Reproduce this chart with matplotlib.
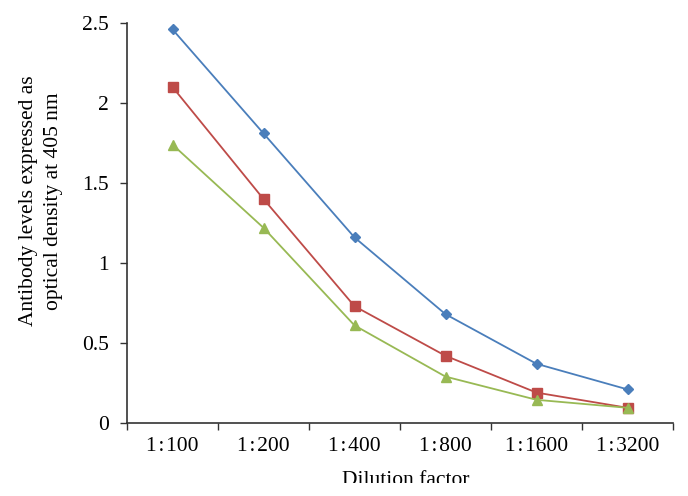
import matplotlib
matplotlib.use('Agg')
import matplotlib.pyplot as plt
from matplotlib.patches import Rectangle
from matplotlib.ticker import FixedLocator

# Data
dilutions = ['1\u200a:\u200a100', '1\u200a:\u200a200', '1\u200a:\u200a400',
             '1\u200a:\u200a800', '1\u200a:\u200a1600', '1\u200a:\u200a3200']
series_blue = [2.46, 1.81, 1.16, 0.68, 0.37, 0.21]
series_red = [2.10, 1.40, 0.73, 0.42, 0.19, 0.095]
series_green = [1.74, 1.22, 0.61, 0.29, 0.145, 0.095]
y_ticks = [0, 0.5, 1, 1.5, 2, 2.5]
y_tick_labels = ['0', '0.5', '1', '1.5', '2', '2.5']

plt.rcParams['font.family'] = ['Liberation Serif', 'DejaVu Serif']

fig = plt.figure(figsize=(6.88, 4.96), dpi=100)
ax = fig.add_axes([127/688, 1 - 423/496, 546/688, 400/496])

x = list(range(len(dilutions)))
ax.plot(x, series_blue, color='#4a7ebb', lw=1.3, marker='D', ms=5.5, zorder=3)
ax.plot(x, series_red, color='#be4b48', lw=1.3, marker='s', ms=7, zorder=3)
ax.plot(x, series_green, color='#98b954', lw=1.3, marker='^', ms=7, zorder=4)

ax.set_xlim(-0.5, len(dilutions) - 0.5)
ax.set_ylim(0, 2.5)
ax.set_xticks(x)
ax.set_xticklabels(dilutions, fontsize=15.5)
ax.xaxis.set_minor_locator(FixedLocator([i - 0.5 for i in range(len(dilutions) + 1)]))
ax.tick_params(axis='x', which='major', length=0, pad=10)
ax.tick_params(axis='x', which='minor', length=5, width=1, direction='out', color='#333333')
ax.set_yticks(y_ticks)
ax.set_yticklabels(y_tick_labels, fontsize=15.5)
ax.tick_params(axis='y', length=5, width=1, direction='out', color='#333333', pad=8)

for side in ['top', 'right']:
    ax.spines[side].set_visible(False)
for side in ['left', 'bottom']:
    ax.spines[side].set_color('#333333')
    ax.spines[side].set_linewidth(1.2)

fig.text(41/688, 1 - 201/496, 'Antibody levels expressed as\noptical density at 405 nm',
         rotation=90, ha='center', va='center', fontsize=15.5, linespacing=1.45)
fig.text(406/688, 1 - 471/496, 'Dilution factor', ha='center', va='top', fontsize=15.5)

# the reference is cropped just under the axis label
fig.add_artist(Rectangle((0, 0), 1, 13/496, transform=fig.transFigure,
                         facecolor='white', edgecolor='none', zorder=10))

fig.savefig('out.png', dpi=100)
